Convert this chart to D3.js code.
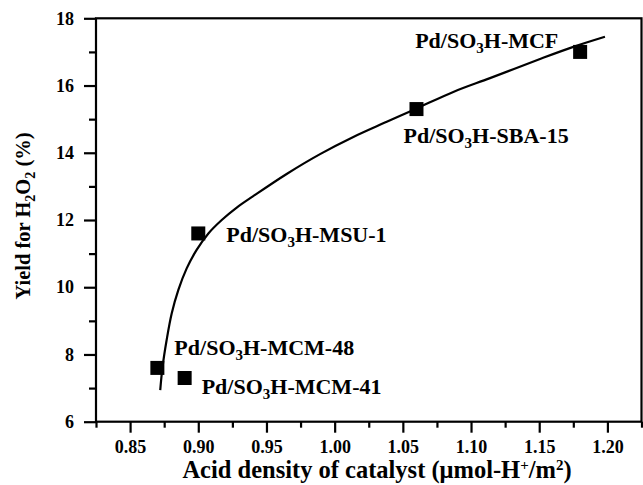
<!DOCTYPE html>
<html>
<head>
<meta charset="utf-8">
<script src="https://cdn.jsdelivr.net/npm/d3@7"></script>
<style>
  html, body { margin: 0; padding: 0; background: #fff; }
  svg { display: block; }
  text { font-family: "Liberation Serif", "Times New Roman", serif; font-weight: bold; fill: #000; }
</style>
</head>
<body>
<svg id="chart" width="643" height="485"></svg>
<script>
// ---- data ----
const catalysts = ["Pd/SO3H-MCF", "Pd/SO3H-SBA-15", "Pd/SO3H-MSU-1", "Pd/SO3H-MCM-48", "Pd/SO3H-MCM-41"];
const acidDensity = [1.18, 1.06, 0.90, 0.87, 0.89];
const yieldH2O2 = [17.0, 15.3, 11.6, 7.6, 7.3];

// fitted trend curve
const fitX = [0.8721, 0.8738, 0.8768, 0.8805, 0.8854, 0.8915, 0.8988, 0.9074, 0.9172, 0.9282, 0.9403, 0.9648, 0.9893, 1.0137, 1.0382, 1.0602, 1.0870, 1.1139, 1.1506, 1.1750, 1.1982];
const fitY = [6.94, 7.63, 8.43, 9.22, 9.92, 10.56, 11.11, 11.60, 12.00, 12.37, 12.71, 13.37, 13.96, 14.47, 14.92, 15.32, 15.81, 16.22, 16.79, 17.15, 17.45];

const xTickValues = [0.85, 0.90, 0.95, 1.00, 1.05, 1.10, 1.15, 1.20];
const xMinorTicks = [0.825, 0.875, 0.925, 0.975, 1.025, 1.075, 1.125, 1.175, 1.225];
const yTickValues = [6, 8, 10, 12, 14, 16, 18];
const yMinorTicks = [7, 9, 11, 13, 15, 17];

// ---- layout ----
const svg = d3.select("#chart");
const pLeft = 96, pRight = 641.5, pTop = 18.3, pBottom = 421.7;

const x = d3.scaleLinear().domain([0.825, 1.225]).range([pLeft, pRight]);
const y = d3.scaleLinear().domain([6, 18]).range([pBottom, pTop]);

// frame
svg.append("rect")
  .attr("x", pLeft).attr("y", pTop)
  .attr("width", pRight - pLeft).attr("height", pBottom - pTop)
  .attr("fill", "none").attr("stroke", "#000").attr("stroke-width", 2.2);

// x axis
const xAxis = svg.append("g").attr("transform", `translate(0,${pBottom})`);
xAxis.call(d3.axisBottom(x).tickValues(xTickValues).tickSize(11).tickPadding(8).tickFormat(d3.format(".2f")));
xAxis.append("g").call(d3.axisBottom(x).tickValues(xMinorTicks).tickSize(6).tickFormat(""));
xAxis.selectAll(".domain").remove();
xAxis.selectAll("line").attr("stroke", "#000").attr("stroke-width", 2.2);
xAxis.selectAll("text").attr("font-size", 18).style("font-family", "Liberation Serif, serif").style("font-weight", "bold");

// y axis
const yAxis = svg.append("g").attr("transform", `translate(${pLeft},0)`);
yAxis.call(d3.axisLeft(y).tickValues(yTickValues).tickSize(12).tickPadding(10).tickFormat(d3.format("d")));
yAxis.append("g").call(d3.axisLeft(y).tickValues(yMinorTicks).tickSize(7).tickFormat(""));
yAxis.selectAll(".domain").remove();
yAxis.selectAll("line").attr("stroke", "#000").attr("stroke-width", 2.2);
yAxis.selectAll("text").attr("font-size", 18).style("font-family", "Liberation Serif, serif").style("font-weight", "bold");

// fitted curve
const curveData = fitX.map((d, i) => [d, fitY[i]]);
svg.append("path")
  .datum(curveData)
  .attr("fill", "none").attr("stroke", "#000").attr("stroke-width", 2.2)
  .attr("d", d3.line().x(d => x(d[0])).y(d => y(d[1])).curve(d3.curveCatmullRom.alpha(0.5)));

// points
const pts = catalysts.map((c, i) => ({ name: c, x: acidDensity[i], y: yieldH2O2[i] }));
const sq = 14;
svg.append("g").selectAll("rect").data(pts).join("rect")
  .attr("x", d => x(d.x) - sq / 2).attr("y", d => y(d.y) - sq / 2)
  .attr("width", sq).attr("height", sq).attr("fill", "#000");

// labels
const labelOffsets = [[-165, -3.5], [-13, 33.5], [28, 8.5], [17, -12.5], [17, 16.5]];
const lab = svg.append("g").selectAll("text").data(pts).join("text")
  .attr("x", (d, i) => x(d.x) + labelOffsets[i][0])
  .attr("y", (d, i) => y(d.y) + labelOffsets[i][1])
  .attr("font-size", 22);
lab.each(function(d) {
  const t = d3.select(this);
  const m = d.name.match(/^(Pd\/SO)3(H-.*)$/);
  t.append("tspan").text(m[1]);
  t.append("tspan").attr("dy", 5).attr("font-size", 15).text("3");
  t.append("tspan").attr("dy", -5).text(m[2]);
});

// x title
const xt = svg.append("text").attr("x", 377).attr("y", 478).attr("text-anchor", "middle").attr("font-size", 24.5);
xt.append("tspan").text("Acid density of catalyst (μmol-H");
xt.append("tspan").attr("dy", -8).attr("font-size", 15).text("+");
xt.append("tspan").attr("dy", 8).text("/m");
xt.append("tspan").attr("dy", -8).attr("font-size", 15).text("2");
xt.append("tspan").attr("dy", 8).text(")");

// y title
const yt = svg.append("text").attr("transform", `translate(30,${216}) rotate(-90)`).attr("text-anchor", "middle").attr("font-size", 20.5);
yt.append("tspan").text("Yield for H");
yt.append("tspan").attr("dy", 5).attr("font-size", 14).text("2");
yt.append("tspan").attr("dy", -5).text("O");
yt.append("tspan").attr("dy", 5).attr("font-size", 14).text("2");
yt.append("tspan").attr("dy", -5).text(" (%)");
</script>
</body>
</html>
